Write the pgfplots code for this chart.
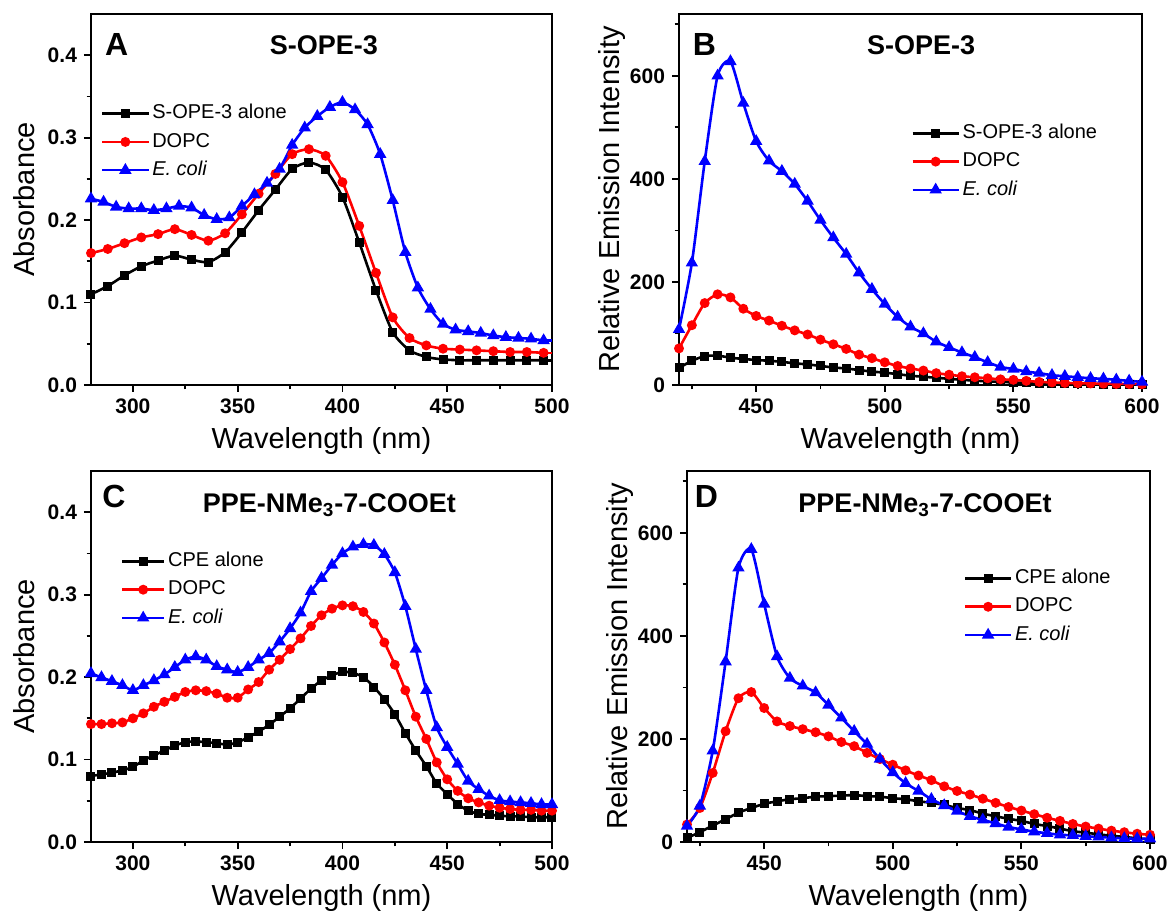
\documentclass[border=0pt]{standalone}
\usepackage{fontspec}
\setmainfont{Liberation Sans}
\usepackage{pgfplots}
\pgfplotsset{compat=1.18}
\tikzset{
  letter/.style={font=\bfseries\fontsize{16}{18}\selectfont, anchor=west, inner sep=0pt},
  ptitle/.style={font=\bfseries\fontsize{13.5}{15}\selectfont},
}
\pgfplotsset{
  panel/.style={
    scale only axis, anchor=south west, width=230.5pt, height=185.5pt,
    axis line style={line width=1.1pt, black},
    tick align=outside, xtick pos=bottom, ytick pos=left,
    major tick length=3.5pt, minor tick length=2.2pt,
    every tick/.append style={line width=0.9pt, black},
    tick label style={font=\bfseries\fontsize{10.5}{12}\selectfont},
    /pgf/number format/assume math mode=true,
    label style={font=\fontsize{14.5}{17}\selectfont},
    xlabel={Wavelength (nm)},
    xlabel style={at={(axis description cs:0.5,-0.1520)}, anchor=center},
    ylabel style={at={(axis description cs:-0.1453,0.5)}, anchor=center},
    legend cell align=left,
    legend style={draw=none, fill=none, anchor=north west, inner sep=0pt,
      font=\fontsize{10}{11}\selectfont, row sep=2.3pt,
      nodes={inner sep=1.3pt, text height=7.2pt, text depth=2pt}},
    every axis plot/.append style={line width=1.3pt, smooth, tension=0.4},
  },
  sA/.style={black, mark=square*, mark size=1.6pt, mark options={solid}},
  sB/.style={red, mark=*, mark size=1.8pt},
  sC/.style={blue, mark=triangle*, mark size=2.3pt},
  limg/.style={legend image code/.code={\draw[mark repeat=2,mark phase=2] plot coordinates {(0pt,0pt) (#1/2,0pt) (#1,0pt)};}},
  absy/.style={ymin=0, ymax=0.45, ytick={0,0.1,0.2,0.3,0.4}, minor ytick={0.05,0.15,0.25,0.35},
    yticklabel style={/pgf/number format/.cd, fixed, fixed zerofill, precision=1},
    ylabel={Absorbance}, xmin=280, xmax=500, xtick={300,350,400,450,500}, minor xtick={325,375,425,475}},
  emy/.style={ymin=0, ymax=720, ytick={0,200,400,600}, minor ytick={100,300,500,700},
    ylabel={Relative Emission Intensity}, xmin=420, xmax=600, xtick={450,500,550,600}, minor xtick={425,475,525,575}},
}
\begin{document}
\begin{tikzpicture}
\useasboundingbox (0,0) rectangle (584pt,455.5pt);
% ---------------- A ----------------
\begin{axis}[panel, absy, at={(45.5pt,263pt)}, limg=23pt,
  legend style={at={(axis description cs:0.021,0.764)}}]
\addplot[sA] coordinates {(280,0.110)(288,0.120)(296,0.133)(304,0.144)(312,0.151)(320,0.157)(328,0.152)(336,0.149)(344,0.161)(352,0.185)(360,0.212)(368,0.237)(376,0.262)(384,0.270)(392,0.261)(400,0.228)(408,0.173)(416,0.115)(424,0.064)(432,0.042)(440,0.034)(448,0.031)(456,0.030)(464,0.030)(472,0.030)(480,0.030)(488,0.030)(496,0.030)};
\addplot[sB] coordinates {(280,0.160)(288,0.165)(296,0.172)(304,0.179)(312,0.183)(320,0.189)(328,0.182)(336,0.175)(344,0.184)(352,0.207)(360,0.232)(368,0.256)(376,0.280)(384,0.286)(392,0.278)(400,0.246)(408,0.193)(416,0.136)(424,0.082)(432,0.057)(440,0.048)(448,0.044)(456,0.043)(464,0.042)(472,0.041)(480,0.040)(488,0.040)(496,0.039)};
\addplot[sC] coordinates {(280,0.226)(286,0.222)(292,0.216)(298,0.214)(304,0.214)(310,0.212)(316,0.214)(322,0.217)(328,0.215)(334,0.206)(340,0.201)(346,0.203)(352,0.217)(358,0.231)(364,0.245)(370,0.262)(376,0.291)(382,0.312)(388,0.326)(394,0.337)(400,0.343)(406,0.334)(412,0.316)(418,0.280)(424,0.224)(430,0.161)(436,0.118)(442,0.092)(448,0.074)(454,0.067)(460,0.065)(466,0.063)(472,0.060)(478,0.058)(484,0.057)(490,0.056)(496,0.054)};
\addplot[black, forget plot, no marks] coordinates {(496,0.030)(500,0.030)};
\addplot[red, forget plot, no marks] coordinates {(496,0.039)(500,0.039)};
\addplot[blue, forget plot, no marks] coordinates {(496,0.054)(500,0.054)};
\legend{S-OPE-3 alone, DOPC, \textit{E. coli}}
\node[letter] at (rel axis cs:0.03,0.918) {A};
\node[ptitle] at (rel axis cs:0.505,0.916) {S-OPE-3};
\end{axis}
% ---------------- B ----------------
\begin{axis}[panel, emy, at={(339.5pt,263pt)}, width=231.5pt, limg=23pt,
  legend style={at={(axis description cs:0.501,0.711)}}]
\addplot[sA] coordinates {(420,33)(425,47)(430,56)(435,57)(440,53)(445,50.5)(450,48.5)(455,47)(460,45)(465,42)(470,40)(475,37)(480,34)(485,32)(490,29)(495,26)(500,24)(505,21)(510,18)(515,16)(520,14)(525,12)(530,10)(535,8.5)(540,7)(545,6)(550,5)(555,4)(560,3.5)(565,3)(570,2.5)(575,2)(580,2)(585,1.5)(590,1.5)(595,1)(600,1)};
\addplot[sB] coordinates {(420,71)(425,116)(430,159)(435,176)(440,170)(445,148)(450,134)(455,125)(460,115)(465,106)(470,98)(475,88)(480,79)(485,70)(490,59)(495,52)(500,44)(505,37)(510,32)(515,28)(520,23)(525,20)(530,17)(535,15)(540,13)(545,11)(550,10)(555,8)(560,6)(565,5)(570,4)(575,3.5)(580,3)(585,2.5)(590,2)(595,2)(600,1.5)};
\addplot[sC] coordinates {(420,108)(425,237)(430,434)(435,600)(440,628)(445,547)(450,473)(455,435)(460,415)(465,390)(470,357)(475,320)(480,286)(485,254)(490,218)(495,186)(500,157)(505,132)(510,113)(515,100)(520,84)(525,73)(530,63)(535,54)(540,44)(545,35)(550,31)(555,26)(560,23)(565,19)(570,17)(575,15)(580,13)(585,12)(590,10)(595,8)(600,6)};
\legend{S-OPE-3 alone, DOPC, \textit{E. coli}}
\node[letter] at (rel axis cs:0.029,0.918) {B};
\node[ptitle] at (rel axis cs:0.523,0.916) {S-OPE-3};
\end{axis}
% ---------------- C ----------------
\begin{axis}[panel, absy, at={(45.5pt,34.5pt)}, limg=21pt,
  legend style={at={(axis description cs:0.064,0.789)}}]
\addplot[sA] coordinates {(280,0.080)(285,0.082)(290,0.084)(295,0.087)(300,0.091)(305,0.099)(310,0.105)(315,0.111)(320,0.117)(325,0.121)(330,0.122)(335,0.121)(340,0.120)(345,0.118)(350,0.121)(355,0.127)(360,0.134)(365,0.142)(370,0.152)(375,0.162)(380,0.174)(385,0.186)(390,0.196)(395,0.202)(400,0.2065)(405,0.205)(410,0.200)(415,0.188)(420,0.173)(425,0.155)(430,0.132)(435,0.111)(440,0.092)(445,0.071)(450,0.058)(455,0.046)(460,0.038)(465,0.034)(470,0.033)(475,0.032)(480,0.031)(485,0.031)(490,0.030)(495,0.030)(500,0.030)};
\addplot[sB] coordinates {(280,0.143)(285,0.143)(290,0.144)(295,0.145)(300,0.150)(305,0.156)(310,0.164)(315,0.170)(320,0.176)(325,0.182)(330,0.184)(335,0.183)(340,0.180)(345,0.175)(350,0.175)(355,0.185)(360,0.194)(365,0.209)(370,0.221)(375,0.234)(380,0.247)(385,0.262)(390,0.275)(395,0.283)(400,0.287)(405,0.286)(410,0.279)(415,0.265)(420,0.242)(425,0.215)(430,0.184)(435,0.152)(440,0.125)(445,0.0965)(450,0.076)(455,0.062)(460,0.053)(465,0.048)(470,0.044)(475,0.0415)(480,0.040)(485,0.039)(490,0.039)(495,0.038)(500,0.038)};
\addplot[sC] coordinates {(280,0.2045)(285,0.1996)(290,0.195)(295,0.190)(300,0.184)(305,0.190)(310,0.196)(315,0.203)(320,0.212)(325,0.221)(330,0.225)(335,0.221)(340,0.213)(345,0.209)(350,0.206)(355,0.212)(360,0.221)(365,0.229)(370,0.243)(375,0.259)(380,0.278)(385,0.304)(390,0.320)(395,0.336)(400,0.350)(405,0.358)(410,0.361)(415,0.360)(420,0.349)(425,0.327)(430,0.286)(435,0.234)(440,0.184)(445,0.139)(450,0.115)(455,0.0945)(460,0.074)(465,0.064)(470,0.056)(475,0.0505)(480,0.049)(485,0.048)(490,0.047)(495,0.0456)(500,0.0456)};
\legend{CPE alone, DOPC, \textit{E. coli}}
\node[letter] at (rel axis cs:0.024,0.93) {C};
\node[ptitle] at (rel axis cs:0.517,0.908) {PPE-NMe\textsubscript{3}-7-COOEt};
\end{axis}
% ---------------- D ----------------
\begin{axis}[panel, emy, at={(343.5pt,34.5pt)}, width=231.5pt, limg=23pt,
  legend style={at={(axis description cs:0.597,0.743)}}]
\addplot[sA] coordinates {(420,8)(425,19)(430,32)(435,44)(440,57)(445,66)(450,74)(455,79)(460,83)(465,85)(470,88)(475,89)(480,90)(485,91)(490,89)(495,88)(500,85)(505,83)(510,79)(515,76)(520,72)(525,66)(530,62)(535,55)(540,50)(545,45)(550,41)(555,35)(560,31)(565,26)(570,21)(575,18)(580,15)(585,12)(590,10)(595,7)(600,5)};
\addplot[sB] coordinates {(420,34)(425,66)(430,134)(435,215)(440,279)(445,291)(450,260)(455,234)(460,225)(465,219)(470,213)(475,205)(480,194)(485,186)(490,173)(495,161)(500,150)(505,139)(510,129)(515,120)(520,108)(525,99)(530,92)(535,84)(540,76)(545,68)(550,61)(555,54)(560,47)(565,41)(570,35)(575,30)(580,26)(585,22)(590,19)(595,16)(600,14)};
\addplot[sC] coordinates {(420,31)(425,70)(430,177)(435,350)(440,532)(445,568)(450,462)(455,360)(460,318)(465,303)(470,290)(475,266)(480,241)(485,215)(490,190)(495,161)(500,135)(505,114)(510,99)(515,83)(520,71)(525,60)(530,50)(535,43)(540,36)(545,29)(550,24.5)(555,20)(560,17)(565,14)(570,13)(575,11)(580,10)(585,8.4)(590,7)(595,6.5)(600,6.5)};
\legend{CPE alone, DOPC, \textit{E. coli}}
\node[letter] at (rel axis cs:0.016,0.93) {D};
\node[ptitle] at (rel axis cs:0.514,0.908) {PPE-NMe\textsubscript{3}-7-COOEt};
\end{axis}
\end{tikzpicture}
\end{document}
